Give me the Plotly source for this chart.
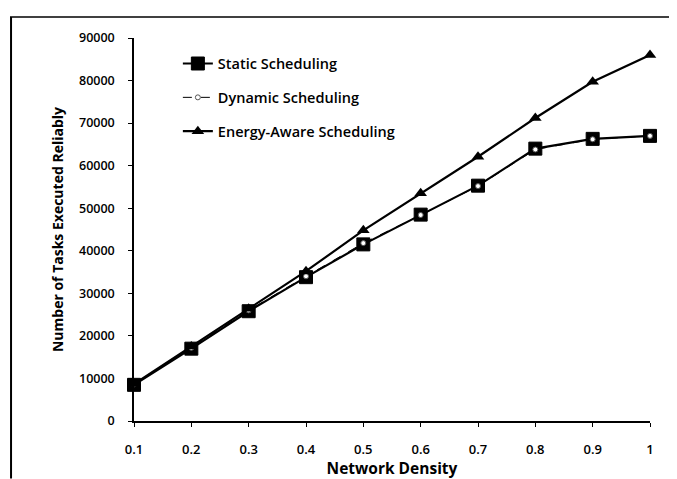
import plotly.graph_objects as go

density = [0.1, 0.2, 0.3, 0.4, 0.5, 0.6, 0.7, 0.8, 0.9, 1.0]
x_tick_labels = ["0.1", "0.2", "0.3", "0.4", "0.5", "0.6", "0.7", "0.8", "0.9", "1"]
static_sched = [8500, 17000, 25800, 33800, 41500, 48500, 55300, 64000, 66300, 67000]
dynamic_sched = [8600, 17200, 26000, 34000, 41800, 48400, 55200, 63800, 66200, 67000]
energy_sched = [8700, 17500, 26400, 35200, 44800, 53500, 62100, 71200, 79700, 86000]
y_ticks = [0, 10000, 20000, 30000, 40000, 50000, 60000, 70000, 80000, 90000]

FONT = "Open Sans"
W, H = 669, 471  # the page body adds an 8px margin

fig = go.Figure()
fig.add_trace(go.Scatter(
    x=density, y=static_sched, name="Static Scheduling", legendgroup="a",
    mode="lines+markers",
    line=dict(color="black", width=2.2),
    marker=dict(symbol="square", size=13, color="black", line=dict(color="black", width=1)),
))
fig.add_trace(go.Scatter(
    x=density, y=dynamic_sched, name="Dynamic Scheduling", legendgroup="b",
    mode="lines+markers",
    line=dict(color="black", width=1, dash="dash"),
    marker=dict(symbol="circle", size=5, color="white", line=dict(color="#555", width=1)),
))
fig.add_trace(go.Scatter(
    x=density, y=energy_sched, name="Energy-Aware Scheduling", legendgroup="c",
    mode="lines+markers",
    line=dict(color="black", width=2.2),
    marker=dict(symbol="triangle-up", size=11, color="black"),
))

fig.update_layout(
    width=W, height=H,
    margin=dict(l=126, r=27, t=30, b=58, autoexpand=False),
    paper_bgcolor="white", plot_bgcolor="white",
    font=dict(family=FONT, color="black"),
    showlegend=True,
    legend=dict(
        x=0.085, y=0.975, xanchor="left", yanchor="top",
        font=dict(family=FONT, size=14.5, weight=600, color="black"),
        bgcolor="rgba(0,0,0,0)", tracegroupgap=12,
        itemwidth=30,
    ),
    xaxis=dict(
        range=[0.1, 1.0], tickvals=density, ticktext=x_tick_labels,
        showgrid=False, zeroline=False, showline=True, linecolor="black", linewidth=1.5,
        ticks="outside", ticklen=4, tickcolor="black", ticklabelstandoff=12,
        tickfont=dict(family=FONT, size=13, weight=600),
        title=dict(text="Network Density", font=dict(family=FONT, size=15.5, weight="bold"), standoff=1),
    ),
    yaxis=dict(
        range=[0, 90000], tickvals=y_ticks, ticktext=[str(v) for v in y_ticks],
        showgrid=False, zeroline=False, showline=True, linecolor="black", linewidth=1.5,
        ticks="outside", ticklen=4, tickcolor="black", ticklabelstandoff=11,
        tickfont=dict(family=FONT, size=12.5, weight=600),
        title=dict(text="Number of Tasks Executed Reliably", font=dict(family=FONT, size=14, weight="bold"), standoff=12),
    ),
    shapes=[
        dict(type="line", xref="paper", yref="paper", x0=-0.2403, x1=1.06, y0=1.0548, y1=1.0548,
             line=dict(color="black", width=1.5), layer="above"),
        dict(type="line", xref="paper", yref="paper", x0=-0.2383, x1=-0.2383, y0=1.0548, y1=-0.15,
             line=dict(color="black", width=2), layer="above"),
    ],
)
fig.update_traces(cliponaxis=False)

fig.write_html("out.html")
